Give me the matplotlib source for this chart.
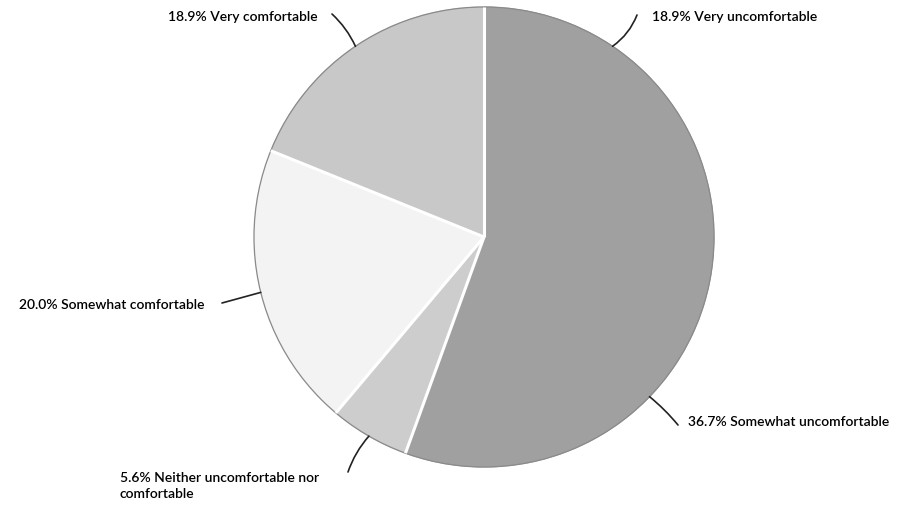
import numpy as np
import matplotlib.pyplot as plt
from matplotlib.patches import Circle

# Survey answers, clockwise from the top
labels = ["Very uncomfortable", "Somewhat uncomfortable",
          "Neither uncomfortable nor\ncomfortable",
          "Somewhat comfortable", "Very comfortable"]
shares = [18.9, 36.7, 5.6, 20.0, 18.9]
colors = ["#a0a0a0", "#a0a0a0", "#cdcdcd", "#f3f3f3", "#c8c8c8"]

plt.rcParams['font.family'] = ['Lato', 'DejaVu Sans']

fig = plt.figure(figsize=(9.07, 5.05), dpi=100)
ax = fig.add_axes([0, 0, 1, 1])

# pie centre / radius in pixels
cx, cy, R = 484, 237, 230

wedges, _ = ax.pie(shares, colors=colors, startangle=90, counterclock=False,
                   radius=1.0, wedgeprops=dict(linewidth=0.8))
# edge in the face colour hides the seam between the two dark slices
for w in wedges:
    w.set_edgecolor(w.get_facecolor())

ax.set_xlim(-cx / R, (907 - cx) / R)
ax.set_ylim(-(505 - cy) / R, cy / R)
ax.set_aspect('auto')
ax.axis('off')

# rim and white separators (the two "uncomfortable" slices run together)
ax.add_patch(Circle((0, 0), 1.0, fill=False, edgecolor="#8a8a8a", lw=0.9))
for i, w in enumerate(wedges):
    if i == 1:
        continue
    t = np.deg2rad(w.theta2)
    ax.plot([0, np.cos(t)], [0, np.sin(t)], color="white", lw=2.2,
            solid_capstyle='butt')


def px(x, y):
    return (x - cx) / R, (cy - y) / R


# label layout: text anchor (px), alignment, leader end (px)
text_pos = [(652, 17), (688, 422), (120, 486), (205, 305), (318, 17)]
text_ha = ["left", "left", "left", "right", "right"]
line_end = [(637, 15), (678, 425), (348, 472), (222, 303), (332, 14)]
rads = [0.15, -0.05, 0.1, 0.0, 0.1]

for i, w in enumerate(wedges):
    mid = np.deg2rad((w.theta1 + w.theta2) / 2)
    anchor = (np.cos(mid), np.sin(mid))
    ax.annotate("", xy=px(*line_end[i]), xytext=anchor,
                arrowprops=dict(arrowstyle="-", color="#222222", lw=1.2,
                                shrinkA=0, shrinkB=0,
                                connectionstyle=f"arc3,rad={rads[i]}"))
    ax.text(*px(*text_pos[i]), f"{shares[i]:.1f}% {labels[i]}",
            ha=text_ha[i], va="center", fontsize=10, color="#000000",
            fontweight="semibold", linespacing=1.35)

fig.savefig("out.png", dpi=100, facecolor="white")
